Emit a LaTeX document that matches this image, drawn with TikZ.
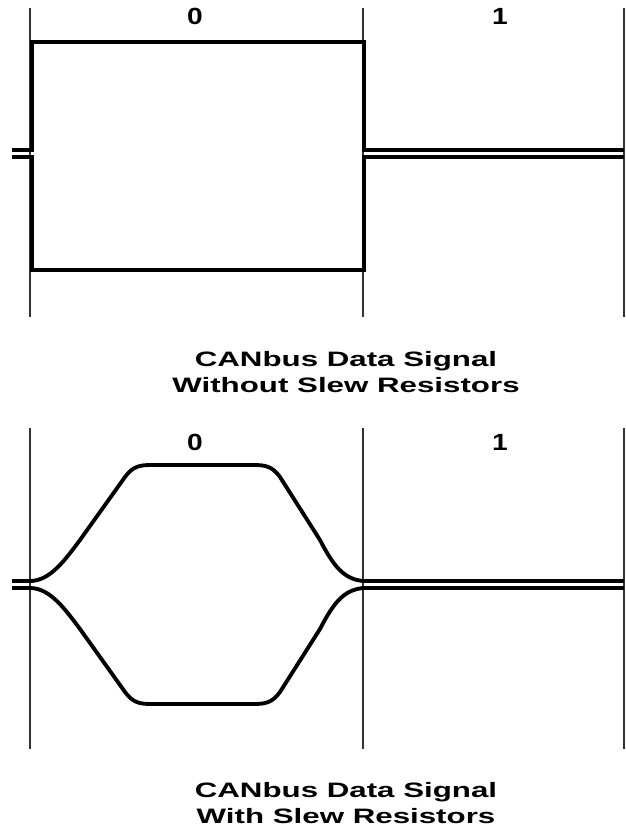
\documentclass[tikz,border=0pt]{standalone}
\usepackage{fontspec}
\setmainfont{Liberation Sans}
\usepackage{tikz}
\usetikzlibrary{positioning}

\begin{document}
\begin{tikzpicture}[x=0.03cm,y=-0.03cm,
    bitline/.style={line width=1.1pt,black!80},
    trace/.style={line width=3.3pt},
    bitlbl/.style={font=\bfseries\fontsize{20}{22}\selectfont,xscale=1.2,transform shape},
    caption/.style={font=\bfseries\fontsize{17.8}{22.5}\selectfont,align=center,
      xscale=1.5,transform shape}
  ]
  \useasboundingbox (0,0) rectangle (626,837);
  % top panel: square edges
  \foreach \x in {30,363,624} \draw[bitline] (\x,8) -- (\x,317);
  \node[bitlbl] (zeroA) at (195,16.5) {0};
  \node[bitlbl] (oneA) at (500,16.5) {1};
  \draw[trace] (12,150) -- (32,150) -- (32,42) -- (364,42) -- (364,150) -- (624,150);
  \draw[trace] (12,157) -- (32,157) -- (32,270) -- (364,270) -- (364,157) -- (624,157);
  \node[caption] (capA) at (346,372) {CANbus Data Signal\\Without Slew Resistors};
  % bottom panel: slewed edges
  \foreach \x in {30,363,624} \draw[bitline] (\x,428) -- (\x,749);
  \node[bitlbl] (zeroB) at (195,442) {0};
  \node[bitlbl] (oneB) at (500,442) {1};
  \draw[trace] (12,581) -- (30,581) .. controls (50,581) and (65,560) .. (80,540)
    -- (125,477) .. controls (133,466) and (140,465) .. (152,465) -- (253,465)
    .. controls (265,465) and (272,466) .. (280,477) -- (320,540)
    .. controls (333,565) and (343,579) .. (363,581) -- (624,581);
  \draw[trace] (12,588) -- (30,588) .. controls (50,588) and (65,609) .. (80,629)
    -- (125,692) .. controls (133,703) and (140,704) .. (152,704) -- (253,704)
    .. controls (265,704) and (272,703) .. (280,692) -- (320,629)
    .. controls (333,604) and (343,590) .. (363,588) -- (624,588);
  \node[caption] (capB) at (346,803) {CANbus Data Signal\\With Slew Resistors};
\end{tikzpicture}
\end{document}
